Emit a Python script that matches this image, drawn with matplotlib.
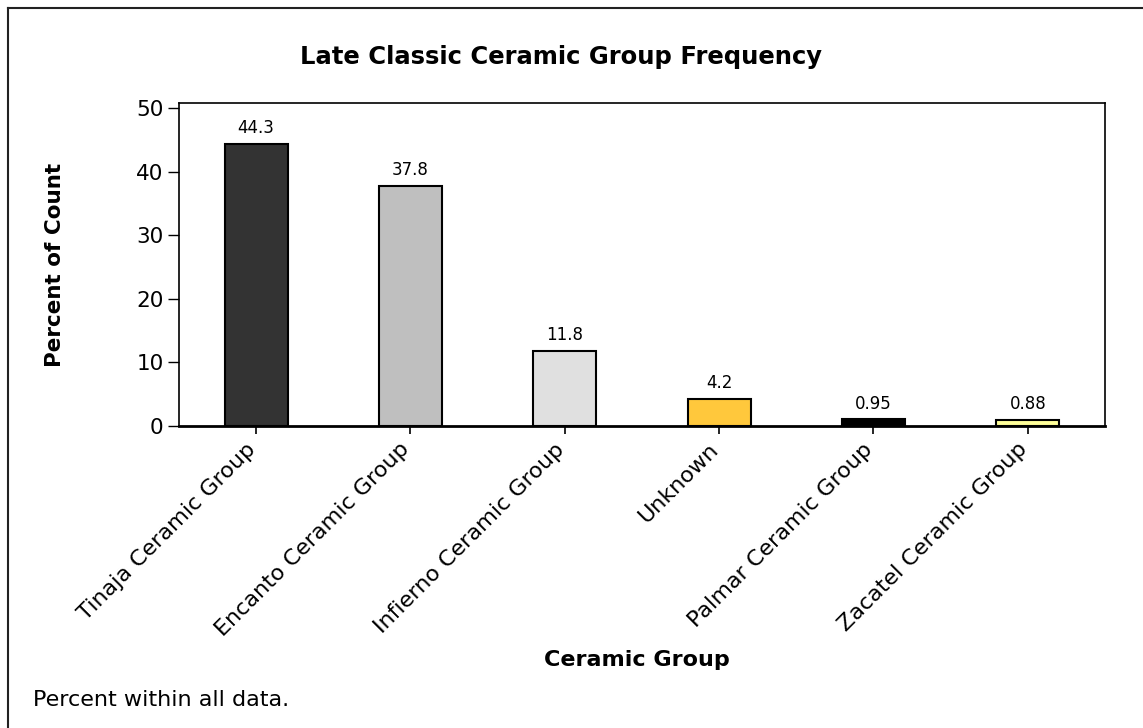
import matplotlib
matplotlib.use("Agg")
import matplotlib.pyplot as plt
from matplotlib.lines import Line2D
from matplotlib.transforms import ScaledTranslation

plt.rcParams['font.family'] = ['DejaVu Sans']

categories = ["Tinaja Ceramic Group", "Encanto Ceramic Group", "Infierno Ceramic Group",
              "Unknown", "Palmar Ceramic Group", "Zacatel Ceramic Group"]
percents = [44.3, 37.8, 11.8, 4.2, 0.95, 0.88]
value_labels = ["44.3", "37.8", "11.8", "4.2", "0.95", "0.88"]
bar_colors = ["#333333", "#bfbfbf", "#e0e0e0", "#ffc83c", "#000000", "#ffff99"]
y_ticks = [0, 10, 20, 30, 40, 50]

W, H = 1143, 728
fig = plt.figure(figsize=(W / 100, H / 100), dpi=100)

# axes placed in pixel terms
left, right, top, bottom = 179, 1105, 103, 425.5
ax = fig.add_axes([left / W, 1 - bottom / H, (right - left) / W, (bottom - top) / H])

x = range(len(categories))
bars = ax.bar(x, percents, width=0.41, color=bar_colors, edgecolor="black", linewidth=1.5, zorder=2)

for b, lab in zip(bars, value_labels):
    ax.annotate(lab, (b.get_x() + b.get_width() / 2, b.get_height()),
                xytext=(0, 5), textcoords="offset points", ha="center", va="bottom",
                fontsize=12)

ax.set_xlim(-0.5, len(categories) - 0.5)
ax.set_ylim(0, 50.8)
ax.set_yticks(y_ticks)
ax.tick_params(axis="y", labelsize=15.5, length=8, width=1, direction="out", pad=3)
ax.tick_params(axis="x", labelsize=16, length=6, width=1.2, direction="out", pad=6)
ax.set_xticks(list(x))
ax.set_xticklabels(categories, rotation=45, ha="right", va="center", rotation_mode="anchor")

# nudge rotated category labels slightly down-left so they sit under their ticks
shift = ScaledTranslation(-4 / 100, -4 / 100, fig.dpi_scale_trans)
for lbl in ax.get_xticklabels():
    lbl.set_transform(lbl.get_transform() + shift)

for side, sp in ax.spines.items():
    sp.set_linewidth(1.2)
ax.spines["bottom"].set_linewidth(2)

fig.text(561 / W, 1 - 57 / H, "Late Classic Ceramic Group Frequency", ha="center", va="center",
         fontsize=17.5, fontweight="bold")
fig.text(55 / W, 1 - 265 / H, "Percent of Count", ha="center", va="center", rotation=90,
         fontsize=15.5, fontweight="bold")
fig.text(637 / W, 1 - 660 / H, "Ceramic Group", ha="center", va="center",
         fontsize=16, fontweight="bold")
fig.text(33 / W, 1 - 700 / H, "Percent within all data.", ha="left", va="center", fontsize=16)

# outer frame (top and left edges)
fig.add_artist(Line2D([8 / W, 8 / W], [0, 1 - 8 / H], color="#222222", linewidth=1.5,
                      transform=fig.transFigure))
fig.add_artist(Line2D([8 / W, 1], [1 - 8 / H, 1 - 8 / H], color="#222222", linewidth=1.5,
                      transform=fig.transFigure))

fig.savefig("out.png", dpi=100)
